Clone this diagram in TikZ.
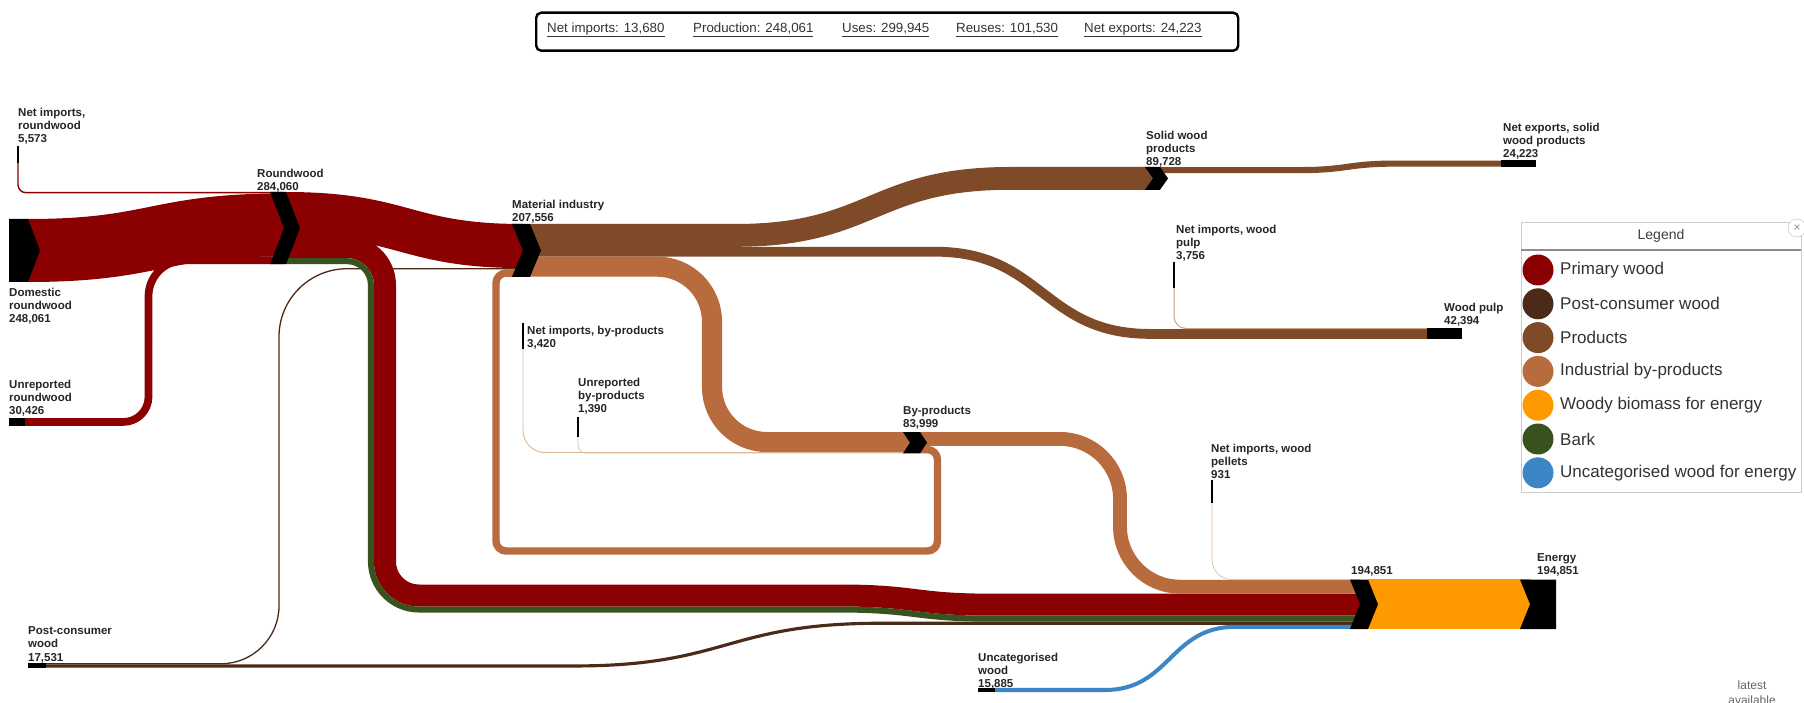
\documentclass[tikz,border=0pt]{standalone}
\usepackage{fontspec}
\setmainfont{Liberation Sans}
\usetikzlibrary{calc}

\definecolor{primary}{HTML}{8B0000}
\definecolor{postcons}{HTML}{4B2A17}
\definecolor{products}{HTML}{7F4A28}
\definecolor{byprod}{HTML}{B86B3C}
\definecolor{biomass}{HTML}{FF9900}
\definecolor{bark}{HTML}{38531F}
\definecolor{uncat}{HTML}{3C86C6}
\definecolor{paleflow}{HTML}{DDB894}
\definecolor{palepulp}{HTML}{C9A27F}
\definecolor{labeltext}{HTML}{262626}

% chevron node: notched on the left, pointed on the right
\newcommand{\woodnode}[6]{%
  \fill[black] (#2,#3) -- ({#4-#6},#3) -- (#4,{(#3+#5)/2}) -- ({#4-#6},#5)
    -- (#2,#5) -- ({#2+#6},{(#3+#5)/2}) -- cycle;
  \coordinate (#1) at ({(#2+#4)/2},{(#3+#5)/2});}

\begin{document}
\begin{tikzpicture}[x=1pt,y=-1pt,
  flow/.style={line cap=butt, line join=round},
  lbl/.style={anchor=north west, inner sep=0pt, align=left, text=labeltext,
    font=\fontsize{11.5}{13.2}\selectfont\bfseries},
  tick/.style={line width=1.8pt, black},
  bar/.style={fill=black},
  sumtext/.style={anchor=west, inner sep=0pt, text=black!80,
    font=\fontsize{13.3}{15}\selectfont},
  legtext/.style={anchor=west, inner sep=0pt, text=black!80,
    font=\fontsize{17}{19}\selectfont},
]
\fill[white] (0,0) rectangle (1804,703);
\useasboundingbox (0,0) rectangle (1804,703);

% ---------- ports ----------
\coordinate (dom-o)  at (28,250.5);
\coordinate (nirw-o) at (18,163);
\coordinate (unrw-o) at (25,421.9);
\coordinate (rw-i1)  at (284,192.7);
\coordinate (rw-i2)  at (284,224.9);
\coordinate (rw-i3)  at (284,260.3);
\coordinate (rw-o1)  at (286,214.05);
\coordinate (rw-o2)  at (286,247.1);
\coordinate (rw-o3)  at (286,261.15);
\coordinate (pcw-o1) at (46,663.75);
\coordinate (pcw-o2) at (46,665.95);
\coordinate (mi-i1)  at (523,246.05);
\coordinate (mi-i2)  at (523,268.75);
\coordinate (mi-i3)  at (523,273.1);
\coordinate (mi-o1)  at (530,235.4);
\coordinate (mi-o2)  at (530,251.7);
\coordinate (mi-o3)  at (530,266.65);
\coordinate (swp-i)  at (1153,178.4);
\coordinate (swp-o)  at (1160,170.1);
\coordinate (ne-i)   at (1501,163.6);
\coordinate (niwp-o) at (1174,288);
\coordinate (wp-i1)  at (1427,328.5);
\coordinate (wp-i2)  at (1427,333.9);
\coordinate (nibp-o) at (523,349);
\coordinate (unbp-o) at (578,437);
\coordinate (bp-i1)  at (910,442.05);
\coordinate (bp-i2)  at (910,452.5);
\coordinate (bp-i3)  at (910,453.1);
\coordinate (bp-o1)  at (920,438.95);
\coordinate (bp-o2)  at (920,449.6);
\coordinate (nipel-o) at (1212,503);
\coordinate (unc-o)  at (995,690);
\coordinate (bio-i1) at (1360,579.6);
\coordinate (bio-i2) at (1360,586.7);
\coordinate (bio-i3) at (1360,604.64);
\coordinate (bio-i4) at (1360,618.67);
\coordinate (bio-i5) at (1360,623.27);
\coordinate (bio-i6) at (1360,626.86);
\coordinate (bio-o)  at (1368,604.2);
\coordinate (en-i)   at (1530,604.2);

% ---------- flows ----------
% post-consumer wood
\draw[flow, postcons, line width=1.3pt, rounded corners=58pt] (pcw-o1) -- (279,663.75) -- (279,450);
\draw[flow, postcons, line width=1.3pt, rounded corners=68pt] (279,450) -- (279,268.75) -- (mi-i2);
\draw[flow, postcons, line width=3.15pt] (pcw-o2) -- (575,665.95)
  .. controls (727,665.95) and (727,623.27) .. (880,623.27) -- (bio-i5);
% uncategorised wood
\draw[flow, uncat, line width=4.03pt] (unc-o) -- (1105,690)
  .. controls (1170,690) and (1170,626.86) .. (1235,626.86) -- (bio-i6);
% roundwood inputs
\draw[flow, primary, line width=1.42pt, rounded corners=8pt] (nirw-o) -- (18,192.7) -- (rw-i1);
\draw[flow, primary, line width=7.73pt, rounded corners=25pt] (unrw-o) -- (148.5,421.9) -- (148.5,340);
\draw[flow, primary, line width=7.73pt, rounded corners=36pt] (148.5,340) -- (148.5,260.3) -- (rw-i3);
\draw[flow, primary, line width=63pt] (dom-o) .. controls (156,250.5) and (156,224.9) .. (rw-i2);
% roundwood outputs
\draw[flow, primary, line width=44.1pt] (rw-o1) .. controls (404.5,214.05) and (404.5,246.05) .. (mi-i1);
\draw[flow, primary, line width=22pt, rounded corners=38pt] (rw-o2) -- (385,247.1) -- (385,420);
\draw[flow, primary, line width=22pt, rounded corners=34pt] (385,420) -- (385,595.5) -- (840,595.5);
\draw[flow, primary, line width=22pt] (840,595.5) .. controls (915,595.5) and (915,604.64) .. (990,604.64) -- (bio-i3);
\draw[flow, bark, line width=6.05pt, rounded corners=23.97pt] (rw-o3) -- (370.97,261.15) -- (370.97,420);
\draw[flow, bark, line width=6.05pt, rounded corners=48.03pt] (370.97,420) -- (370.97,609.53) -- (840,609.53);
\draw[flow, bark, line width=6.05pt] (840,609.53) .. controls (915,609.53) and (915,618.67) .. (990,618.67) -- (bio-i4);
% material industry outputs
\draw[flow, products, line width=22.8pt] (mi-o1) -- (735,235.4)
  .. controls (872.5,235.4) and (872.5,178.4) .. (1010,178.4) -- (swp-i);
\draw[flow, products, line width=9.8pt] (mi-o2) -- (935,251.7)
  .. controls (1042.5,251.7) and (1042.5,333.9) .. (1150,333.9) -- (wp-i2);
\draw[flow, byprod, line width=20.1pt, rounded corners=55pt] (mi-o3) -- (712,266.65) -- (712,442.05) -- (bp-i1);
% by-product inputs
\draw[flow, paleflow, line width=0.9pt, rounded corners=22pt] (nibp-o) -- (523,452.5) -- (bp-i2);
\draw[flow, paleflow, line width=0.6pt, rounded corners=8pt] (unbp-o) -- (578,453.1) -- (bp-i3);
% by-products back to material industry
\draw[flow, byprod, line width=7.4pt, rounded corners=10pt] (bp-o2) -- (937.5,449.6) -- (937.5,551)
  -- (496,551) -- (496,273.1) -- (mi-i3);
% by-products to energy
\draw[flow, byprod, line width=13.9pt, rounded corners=60pt] (bp-o1) -- (1120,438.95) -- (1120,586.7) -- (bio-i2);
\draw[flow, paleflow, line width=0.6pt, rounded corners=20pt] (nipel-o) -- (1212,579.6) -- (bio-i1);
% products onwards
\draw[flow, products, line width=6.15pt] (swp-o) -- (1300,170.1)
  .. controls (1347.5,170.1) and (1347.5,163.6) .. (1395,163.6) -- (ne-i);
\draw[flow, palepulp, line width=1pt, rounded corners=12pt] (niwp-o) -- (1174,328.5) -- (wp-i1);
% woody biomass to energy
\draw[flow, biomass, line width=49.5pt] (bio-o) -- (en-i);

% ---------- nodes ----------
\fill[black] (9,219) -- (28,219) -- (40,250.5) -- (28,282) -- (9,282) -- cycle;
\coordinate (dom) at (24,250.5);
\woodnode{rw}{270}{192}{300}{264.2}{14}
\woodnode{mi}{512}{224}{541}{276.8}{11}
\woodnode{swp}{1145}{167}{1168}{189.8}{8}
\woodnode{bp}{903}{432}{927}{453.3}{7}
\woodnode{bio}{1350}{579.5}{1378}{629}{10}
\fill[black] (1520,579.5) -- (1556,579.5) -- (1556,629) -- (1520,629) -- (1530,604.25) -- cycle;
\coordinate (en) at (1538,604.25);

\fill[bar] (9,418) rectangle (25,425.7);
\fill[bar] (28,663.1) rectangle (46,667.55);
\fill[bar] (978,688) rectangle (995,692);
\fill[bar] (1427,328) rectangle (1462,338.8);
\fill[bar] (1501,160.5) rectangle (1536,166.7);

\draw[tick] (18,146) -- (nirw-o);
\draw[tick] (1174,262) -- (niwp-o);
\draw[tick] (523,323) -- (nibp-o);
\draw[tick] (578,417) -- (unbp-o);
\draw[tick] (1212,480) -- (nipel-o);

% ---------- labels ----------
\node[lbl] (l-nirw) at (18,107.5) {Net imports,\\roundwood\\5,573};
\node[lbl] (l-rw)   at (257,168.5) {Roundwood\\284,060};
\node[lbl] (l-dom)  at (9,288) {Domestic\\roundwood\\248,061};
\node[lbl] (l-unrw) at (9,379.5) {Unreported\\roundwood\\30,426};
\node[lbl] (l-mi)   at (512,199.5) {Material industry\\207,556};
\node[lbl] (l-swp)  at (1146,130.5) {Solid wood\\products\\89,728};
\node[lbl] (l-ne)   at (1503,122.5) {Net exports, solid\\wood products\\24,223};
\node[lbl] (l-niwp) at (1176,224.5) {Net imports, wood\\pulp\\3,756};
\node[lbl] (l-wp)   at (1444,302.5) {Wood pulp\\42,394};
\node[lbl] (l-nibp) at (527,325.5) {Net imports, by-products\\3,420};
\node[lbl] (l-unbp) at (578,377.5) {Unreported\\by-products\\1,390};
\node[lbl] (l-bp)   at (903,405.5) {By-products\\83,999};
\node[lbl] (l-nipel) at (1211,443.5) {Net imports, wood\\pellets\\931};
\node[lbl] (l-bio)  at (1351,566.5) {194,851};
\node[lbl] (l-en)   at (1537,553.5) {Energy\\194,851};
\node[lbl] (l-unc)  at (978,652.5) {Uncategorised\\wood\\15,885};
\node[lbl] (l-pcw)  at (28,626.5) {Post-consumer\\wood\\17,531};

% ---------- summary bar ----------
\node[draw=black, rounded corners=5pt, line width=2.4pt, minimum width=702pt,
  minimum height=38pt, anchor=north west, inner sep=0pt] (summary) at (535,11.5) {};
\node[sumtext] (s1) at (547,30) {\underline{Net imports: 13,680}};
\node[sumtext] (s2) at (693,30) {\underline{Production: 248,061}};
\node[sumtext] (s3) at (842,30) {\underline{Uses: 299,945}};
\node[sumtext] (s4) at (956,30) {\underline{Reuses: 101,530}};
\node[sumtext] (s5) at (1084,30) {\underline{Net exports: 24,223}};

% ---------- legend ----------
\node[draw=black!20, fill=white, line width=1pt, minimum width=280pt, minimum height=269pt,
  anchor=north west, inner sep=0pt] (legend) at (1521,222.5) {};
\node[text=black!75, font=\fontsize{14}{16}\selectfont] (legtitle) at (1661,236) {Legend};
\draw[black!45, line width=1.2pt] (1521,250) -- (1801,250);
\foreach \c/\t [count=\i from 0] in {primary/Primary wood, postcons/Post-consumer wood,
    products/Products, byprod/Industrial by-products, biomass/Woody biomass for energy,
    bark/Bark, uncat/Uncategorised wood for energy} {
  \fill[\c] (1538,{270+33.8*\i}) circle (15.5pt);
  \node[legtext] (leg\i) at (1560,{270+33.8*\i}) {\t};
}
\node[circle, draw=black!25, fill=white, minimum size=18pt, inner sep=0pt, text=black!45,
  font=\fontsize{12}{12}\selectfont] (close) at (1797,228) {×};

% ---------- footer ----------
\node[anchor=north, align=center, inner sep=0pt, text=black!60,
  font=\fontsize{12}{15}\selectfont] (foot) at (1752,681) {latest\\available};
\end{tikzpicture}
\end{document}
